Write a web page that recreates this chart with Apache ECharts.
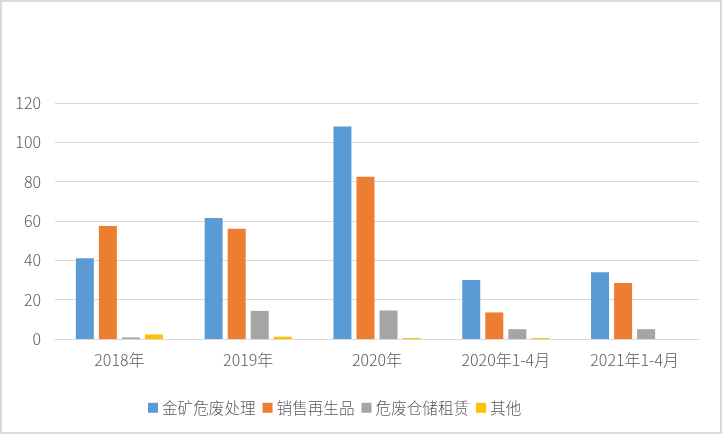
<!DOCTYPE html>
<html>
<head>
<meta charset="utf-8">
<script src="https://cdn.jsdelivr.net/npm/echarts@6/dist/echarts.min.js"></script>
<style>
html,body{margin:0;padding:0;background:#fff;}
#frame{position:absolute;left:0;top:0;width:718px;height:430px;border:2px solid #d9d9d9;background:#fff;}
#chart{position:absolute;left:-2px;top:-2px;width:722px;height:434px;}
</style>
</head>
<body>
<div id="frame"><div id="chart"></div></div>
<script>
const categories = ['2018年', '2019年', '2020年', '2020年1-4月', '2021年1-4月'];
const seriesNames = ['金矿危废处理', '销售再生品', '危废仓储租赁', '其他'];
const goldWaste = [41, 61.5, 108, 30, 34];
const recycled = [57.5, 56, 82.5, 13.5, 28.5];
const storage = [0.8, 14.3, 14.5, 5, 5];
const other = [2.3, 1.2, 0.5, 0.5, 0];
const yTicks = [0, 20, 40, 60, 80, 100, 120];
const colors = ['#5b9bd5', '#ed7d31', '#a5a5a5', '#ffc000'];
const values = [goldWaste, recycled, storage, other];

const font = '"Noto Sans CJK SC", "Microsoft YaHei", sans-serif';
const chart = echarts.init(document.getElementById('chart'));
chart.setOption({
  animation: false,
  color: colors,
  grid: { left: 55, right: 23, top: 103, bottom: 95 },
  legend: {
    left: 143, top: 395,
    itemWidth: 10, itemHeight: 10, itemGap: 7,
    icon: 'rect',
    textStyle: { fontFamily: font, fontSize: 15.6, fontWeight: 300, color: '#595959', padding: [0, 0, 0, -1] },
    data: seriesNames
  },
  xAxis: {
    type: 'category',
    data: categories,
    axisLine: { lineStyle: { color: '#d9d9d9', width: 1 } },
    axisTick: { show: false },
    axisLabel: { fontFamily: font, fontSize: 16, fontWeight: 300, color: '#595959', margin: 13 }
  },
  yAxis: {
    type: 'value',
    min: yTicks[0], max: yTicks[yTicks.length - 1], interval: 20,
    axisLine: { show: false },
    axisTick: { show: false },
    splitLine: { lineStyle: { color: '#d9d9d9', width: 1 } },
    axisLabel: { fontFamily: font, fontSize: 16, fontWeight: 300, color: '#595959', margin: 14 }
  },
  series: seriesNames.map((n, i) => ({
    name: n,
    type: 'bar',
    data: values[i],
    barWidth: 18,
    barGap: '28%',
    itemStyle: { color: colors[i] }
  }))
});
</script>
</body>
</html>
